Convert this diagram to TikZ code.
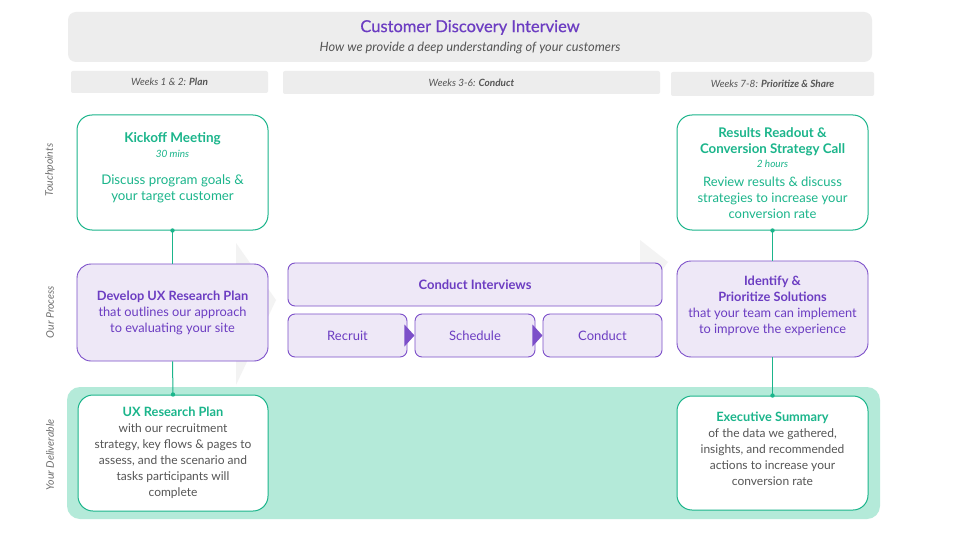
\documentclass[tikz,border=0pt]{standalone}
\usepackage{fontspec}
\setmainfont{Lato}
\newfontfamily\eztitlefont[FakeBold=0.6]{Lato}
\usetikzlibrary{calc}
\definecolor{ezpurple}{HTML}{6C3DC2}
\definecolor{ezpborder}{HTML}{7C4FC9}
\definecolor{ezpfill}{HTML}{EEE8F7}
\definecolor{ezgreen}{HTML}{1BB58B}
\definecolor{ezband}{HTML}{B4EAD9}
\definecolor{ezgreytext}{HTML}{555555}
\definecolor{ezgreyfill}{HTML}{EDEDED}
\definecolor{ezwater}{HTML}{F3F3F3}
\begin{document}
\begin{tikzpicture}[x=1pt,y=-1pt,
  headbox/.style={fill=ezgreyfill,rounded corners=8pt,draw=none,inner sep=0pt},
  weekbox/.style={fill=ezgreyfill,rounded corners=2pt,draw=none,inner sep=0pt,
     font=\fontsize{10}{12}\selectfont\itshape,text=ezgreytext},
  touchbox/.style={draw=ezgreen,line width=1pt,fill=white,rounded corners=15pt,
     inner sep=0pt,align=center,text=ezgreen,font=\fontsize{13}{16}\selectfont},
  procbox/.style={draw=ezpborder,line width=0.9pt,fill=ezpfill,rounded corners=14pt,
     inner sep=0pt,align=center,text=ezpurple,font=\fontsize{12.8}{16}\selectfont},
  stepbox/.style={draw=ezpborder,line width=0.9pt,fill=ezpfill,rounded corners=7pt,
     inner sep=0pt,align=center,text=ezpurple,font=\fontsize{13}{15}\selectfont},
  delbox/.style={draw=ezgreen,line width=1pt,fill=white,rounded corners=15pt,
     inner sep=0pt,align=center,text=ezgreytext,font=\fontsize{12}{16}\selectfont},
  rowlabel/.style={rotate=90,font=\fontsize{10.5}{12}\selectfont\itshape,text=ezgreytext!85!white},
  link/.style={draw=ezgreen,line width=1pt}
]
\useasboundingbox (0,0) rectangle (960,540);
\fill[white] (0,0) rectangle (960,540);

% faint background chevrons
\fill[ezwater] (236,243) -- (276,300) -- (236,385) -- cycle;
\fill[ezwater] (640,240) -- (668,262) -- (640,300) -- cycle;

% header
\node[headbox,minimum width=804pt,minimum height=50pt] (head) at (470,37) {};
\node[text=ezpurple,font=\fontsize{16.5}{19}\eztitlefont] (title) at (470,27.5) {Customer Discovery Interview};
\node[text=ezgreytext,font=\fontsize{12.8}{15}\selectfont\itshape] (sub) at (470,47.5) {How we provide a deep understanding of your customers};

% weeks
\node[weekbox,minimum width=197pt,minimum height=22pt] (wk1) at (169.5,82) {Weeks 1 \& 2: \textbf{Plan}};
\node[weekbox,minimum width=377pt,minimum height=23pt] (wk2) at (471.5,82.5) {Weeks 3-6: \textbf{Conduct}};
\node[weekbox,minimum width=203pt,minimum height=24pt] (wk3) at (772.5,84) {Weeks 7-8: \textbf{Prioritize \& Share}};

% row labels
\node[rowlabel] (rl1) at (50,170) {Touchpoints};
\node[rowlabel] (rl2) at (50,312) {Our Process};
\node[rowlabel] (rl3) at (50,455) {Your Deliverable};

% deliverable band
\fill[ezband,rounded corners=13pt] (67,387) rectangle (880,519);

% left column
\node[touchbox,minimum width=191pt,minimum height=115pt] (kick) at (172.5,172.5) {};
\node[text=ezgreen,font=\fontsize{13.5}{16}\selectfont\bfseries] (kickt) at (172.5,138.5) {Kickoff Meeting};
\node[text=ezgreen,font=\fontsize{10}{11}\selectfont\itshape] (kickd) at (172.5,153.5) {30 mins};
\node[text=ezgreen,align=center,font=\fontsize{13.3}{16}\selectfont] (kickx) at (172.5,188.5) {Discuss program goals \&\\your target customer};

\node[procbox,minimum width=191pt,minimum height=97pt] (dev) at (172.5,312.5)
  {\textbf{Develop UX Research Plan}\\that outlines our approach\\to evaluating your site};

\node[delbox,minimum width=190pt,minimum height=116pt] (uxp) at (173,453)
  {\textcolor{ezgreen}{\fontsize{12.8}{16}\selectfont\bfseries UX Research Plan}\\with our recruitment\\strategy, key flows \& pages to\\assess, and the scenario and\\tasks participants will\\complete};

% middle
\node[stepbox,font=\fontsize{13}{15}\selectfont\bfseries,minimum width=374pt,minimum height=43pt] (ci) at (475,284.5) {Conduct Interviews};
\node[stepbox,minimum width=119pt,minimum height=43pt] (rec) at (347.5,335.5) {Recruit};
\node[stepbox,minimum width=120pt,minimum height=43pt] (sch) at (475,335.5) {Schedule};
\node[stepbox,minimum width=119pt,minimum height=43pt] (con) at (602.5,335.5) {Conduct};
\fill[ezpborder] ($(rec.east)+(-3,-11)$) -- ($(rec.east)+(7,0)$) -- ($(rec.east)+(-3,11)$) -- cycle;
\fill[ezpborder] ($(sch.east)+(-3,-11)$) -- ($(sch.east)+(7,0)$) -- ($(sch.east)+(-3,11)$) -- cycle;

% right column
\node[touchbox,minimum width=191pt,minimum height=115pt] (res) at (772.5,172.5) {};
\node[text=ezgreen,align=center,font=\fontsize{13.3}{16}\selectfont\bfseries] (rest) at (772.5,141.5) {Results Readout \&\\Conversion Strategy Call};
\node[text=ezgreen,font=\fontsize{10}{11}\selectfont\itshape] (resd) at (772.5,164) {2 hours};
\node[text=ezgreen,align=center,font=\fontsize{13}{16}\selectfont] (resx) at (772.5,197.5) {Review results \& discuss\\strategies to increase your\\conversion rate};

\node[procbox,minimum width=191pt,minimum height=96pt] (idp) at (772.5,309) {};
\node[text=ezpurple,align=center,font=\fontsize{12.8}{16}\selectfont] (idpx) at (772.5,305.5)
  {\textbf{Identify \&}\\\textbf{Prioritize Solutions}\\that your team can implement\\to improve the experience};

\node[delbox,minimum width=191pt,minimum height=114pt] (exs) at (772.5,453) {};
\node[text=ezgreytext,align=center,font=\fontsize{12}{16}\selectfont] (exsx) at (772.5,449)
  {\textcolor{ezgreen}{\fontsize{12.8}{16}\selectfont\bfseries Executive Summary}\\of the data we gathered,\\insights, and recommended\\actions to increase your\\conversion rate};

% connectors
\draw[link] (kick.south) -- (dev.north);
\fill[ezgreen] (kick.south) circle (2.2pt);
\draw[link] (dev.south) -- (uxp.north);
\fill[ezgreen] (uxp.north) circle (2.2pt);
\draw[link] (res.south) -- (idp.north);
\fill[ezgreen] (res.south) circle (2.2pt);
\draw[link] (idp.south) -- (exs.north);
\fill[ezgreen] (exs.north) circle (2.2pt);
\end{tikzpicture}
\end{document}
